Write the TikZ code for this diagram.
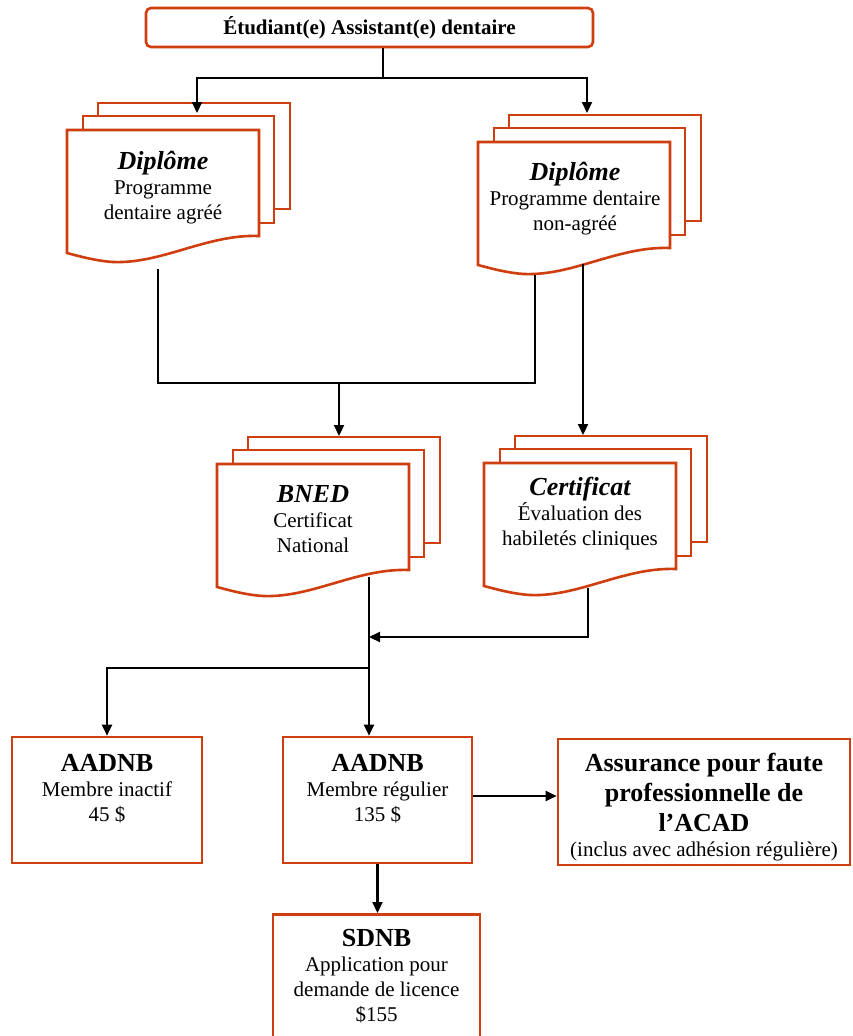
\documentclass[tikz,border=0pt]{standalone}
\usepackage{fontspec}
\setmainfont{Liberation Serif}
\usetikzlibrary{arrows.meta}
\definecolor{boxred}{RGB}{206,62,14}
\newcommand{\bodysize}{\fontsize{21}{25}\selectfont}
\newcommand{\headsize}{\fontsize{26}{30}\selectfont\bfseries}

\tikzset{
  redline/.style={draw=boxred, line width=2.6pt},
  roundbox/.style={redline, fill=white, rounded corners=5pt, align=center, font=\bodysize},
  plainbox/.style={redline, fill=white, align=center, font=\bodysize, inner sep=2pt},
  doctext/.style={align=center, font=\bodysize},
  conn/.style={line width=2.2pt},
  arr/.style={conn, -{Triangle[length=11pt,width=10pt]}}
}

% three stacked pages, #1,#2 = top left corner of the front page
\newcommand{\pagestack}[2]{%
  \begin{scope}[shift={(#1,#2)}]
    \draw[redline, fill=white] (31,-27) rectangle (223,79);
    \draw[redline, fill=white] (16,-14) rectangle (207,93);
    \draw[redline, fill=white] (0,0) -- (192,0) -- (192,106)
      .. controls (140,104) and (95,134) .. (46,132)
      .. controls (30,131) and (15,127) .. (0,123) -- cycle;
  \end{scope}}

\begin{document}
\begin{tikzpicture}[x=1pt, y=-1pt]
  \useasboundingbox (0,0) rectangle (852,1036);

  % student
  \node[roundbox, minimum width=447pt, minimum height=39pt] (etud) at (369.5,27.5)
    {\bfseries Étudiant(e) Assistant(e) dentaire};

  % diplomas
  \pagestack{67}{130}
  \node[doctext] (dipagree) at (163,188)
    {{\headsize\itshape Diplôme}\\ Programme\\ dentaire agréé};
  \pagestack{478}{142}
  \node[doctext] (dipnonagree) at (575,199)
    {{\headsize\itshape Diplôme}\\ Programme dentaire\\ non-agréé};

  % exams
  \pagestack{217}{464}
  \node[doctext] (bned) at (313,519)
    {{\headsize\itshape BNED}\\ Certificat\\ National};
  \pagestack{484}{463}
  \node[doctext] (certif) at (580,514)
    {{\headsize\itshape Certificat}\\ Évaluation des\\ habiletés cliniques};

  % membership and licence
  \node[plainbox, minimum width=190pt, minimum height=126pt] (inactif) at (107,800)
    {{\headsize AADNB}\\ Membre inactif\\ 45 \$\\ ~};
  \node[plainbox, minimum width=189pt, minimum height=126pt] (regulier) at (377.5,800)
    {{\headsize AADNB}\\ Membre régulier\\ 135 \$\\ ~};
  \node[plainbox, minimum width=292pt, minimum height=126pt] (assur) at (704,802)
    {{\headsize\rule{0pt}{28pt}Assurance pour faute}\\[5pt] {\headsize professionnelle de}\\[5pt]
     {\headsize l’ACAD}\\ (inclus avec adhésion régulière)};
  \node[plainbox, anchor=north, minimum width=207pt, minimum height=173pt] (sdnb) at (376.5,913)
    {{\headsize SDNB}\\ Application pour\\ demande de licence\\ \$155\\ ~\\ ~};

  % connectors
  \coordinate (split) at (383,78);
  \coordinate (inA) at (197,113);
  \coordinate (inB) at (587,113);
  \draw[conn] (etud.south -| split) -- (split);
  \draw[arr] (split) -| (inA);
  \draw[arr] (split) -| (inB);

  \coordinate (outA) at (158,269);
  \coordinate (outB) at (535,275);
  \coordinate (join) at (339,383);
  \coordinate (inBned) at (339,436);
  \draw[conn] (outA) |- (join) -| (outB);
  \draw[arr] (join) -- (inBned);

  \coordinate (outB2) at (583,264);
  \coordinate (inCert) at (583,435);
  \draw[arr] (outB2) -- (inCert);

  \coordinate (outBned) at (369,577);
  \coordinate (merge) at (369,637);
  \coordinate (fork) at (369,668);
  \coordinate (outCert) at (588,588);
  \draw[arr] (outCert) |- (merge);
  \draw[arr] (outBned) -- (outBned |- regulier.north);
  \draw[arr] (fork) -| (inactif.north);

  \draw[arr] (regulier.east |- 0,796) -- (assur.west |- 0,796);
  \draw[arr] (regulier.south) -- (regulier.south |- sdnb.north);
\end{tikzpicture}
\end{document}
